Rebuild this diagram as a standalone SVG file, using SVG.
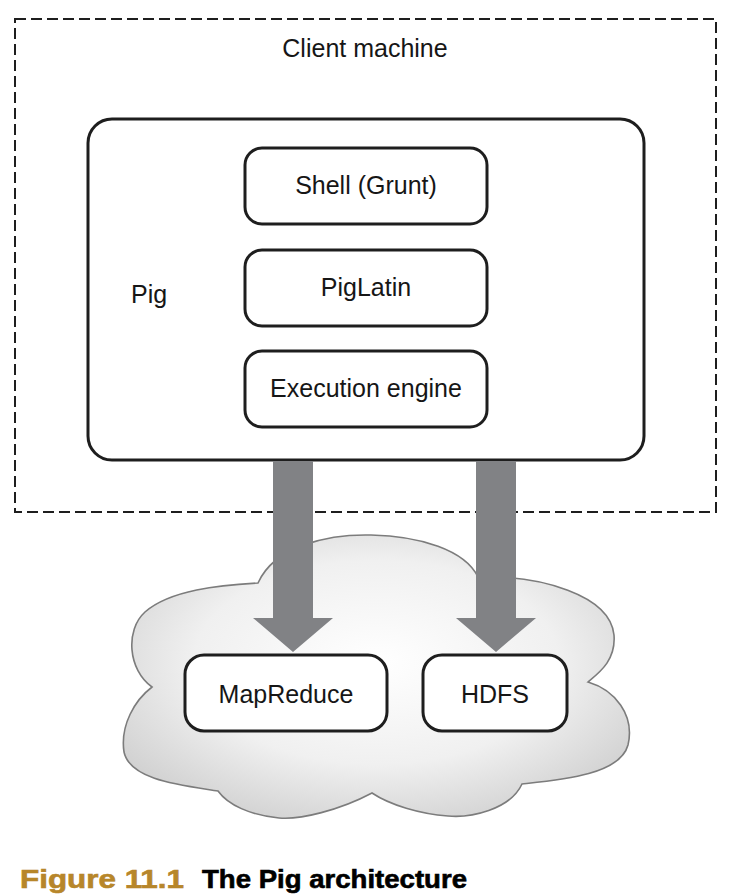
<svg xmlns="http://www.w3.org/2000/svg" width="730" height="896" viewBox="0 0 730 896">
  <defs>
    <radialGradient id="cloudFill" cx="0.5" cy="0.45" r="0.6">
      <stop offset="0" stop-color="#ffffff"/>
      <stop offset="0.6" stop-color="#f0f0f0"/>
      <stop offset="1" stop-color="#d2d2d2"/>
    </radialGradient>
    <style>
      .box { fill: #ffffff; stroke: #1e1e1e; stroke-width: 3; }
      .lbl { font-family: "Liberation Sans", Arial, sans-serif; font-size: 25px; fill: #161616; }
      .mid { text-anchor: middle; }
      .arrow { fill: #818285; }
      .cap { font-family: "Liberation Sans", Arial, sans-serif; font-size: 25px; font-weight: bold; stroke-width: 0.6; }
    </style>
  </defs>
  <rect width="730" height="896" fill="#ffffff"/>

  <g id="client-machine">
    <rect x="15" y="19" width="701" height="493" fill="none" stroke="#1e1e1e" stroke-width="2" stroke-dasharray="11 5"/>
    <text class="lbl mid" x="365" y="57">Client machine</text>
  </g>

  <g id="cloud">
    <path d="M258,583 C275,545 330,534 371,535 C420,536 465,550 478,577 C540,575 610,595 614,635 C616,660 600,672 588,682 C615,690 635,715 628,745 C620,775 560,780 522,784 C510,810 470,818 448,816 C420,814 390,805 372,793 C340,810 300,820 279,818 C250,815 228,805 218,791 C180,785 130,780 124,752 C120,725 135,700 152,687 C128,670 125,630 145,612 C170,590 220,585 258,583 Z" fill="url(#cloudFill)" stroke="#7c7c7c" stroke-width="1.6"/>
  </g>

  <g id="pig">
    <rect class="box" x="88" y="119" width="556" height="341" rx="24"/>
    <text class="lbl" x="131" y="303">Pig</text>
  </g>

  <g id="shell">
    <rect class="box" x="245" y="148" width="242" height="76" rx="17"/>
    <text class="lbl mid" x="366" y="194">Shell (Grunt)</text>
  </g>

  <g id="piglatin">
    <rect class="box" x="245" y="250" width="242" height="76" rx="17"/>
    <text class="lbl mid" x="366" y="296">PigLatin</text>
  </g>

  <g id="execution-engine">
    <rect class="box" x="245" y="351" width="242" height="76" rx="17"/>
    <text class="lbl mid" x="366" y="397">Execution engine</text>
  </g>

  <g id="connectors">
    <polygon class="arrow" points="273,461 313,461 313,618 333,618 293,652 253,618 273,618"/>
    <polygon class="arrow" points="476,461 516,461 516,618 536,618 496,652 456,618 476,618"/>
  </g>

  <g id="mapreduce">
    <rect class="box" x="185" y="655" width="202" height="76" rx="19"/>
    <text class="lbl mid" x="286" y="703">MapReduce</text>
  </g>

  <g id="hdfs">
    <rect class="box" x="423" y="655" width="144" height="76" rx="19"/>
    <text class="lbl mid" x="495" y="703">HDFS</text>
  </g>

  <g id="caption">
    <text class="cap" x="20" y="888" fill="#b7862a" stroke="#b7862a" textLength="164" lengthAdjust="spacingAndGlyphs">Figure 11.1</text>
    <text class="cap" x="202" y="888" fill="#000000" stroke="#000000" textLength="265" lengthAdjust="spacingAndGlyphs">The Pig architecture</text>
  </g>
</svg>
